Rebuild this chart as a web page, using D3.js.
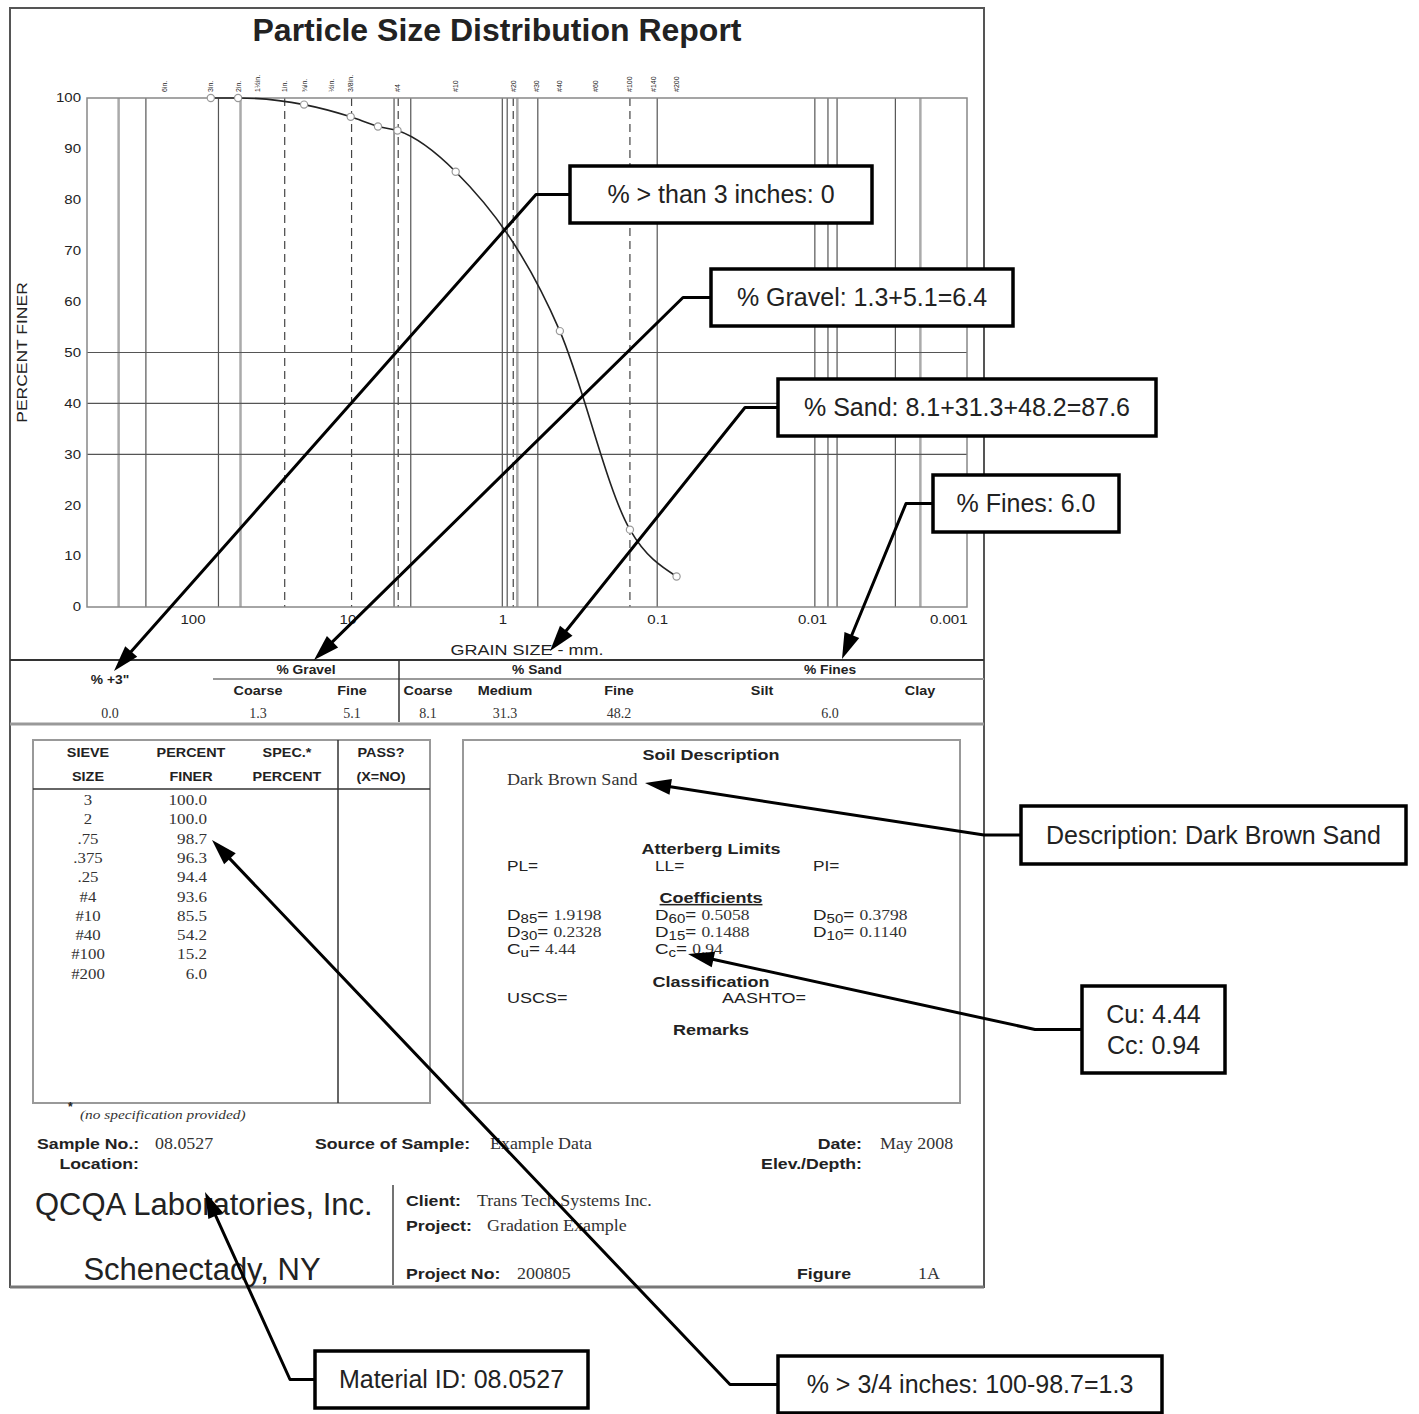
<!DOCTYPE html>
<html>
<head>
<meta charset="utf-8">
<script src="https://cdn.jsdelivr.net/npm/d3@7"></script>
<style>
  body { margin: 0; background: #fff; }
  svg { display: block; }
  text { font-family: "Liberation Sans", Arial, sans-serif; fill: #222; }
  .serif { font-family: "Liberation Serif", "Times New Roman", serif; fill: #333; }
</style>
</head>
<body>
<div id="chart"></div>
<script>
// sieve test results
const sieveNames = ["3", "2", ".75", ".375", ".25", "#4", "#10", "#40", "#100", "#200"];
const sieveSizes = [76.2, 50.8, 19.05, 9.525, 6.35, 4.75, 2.0, 0.425, 0.15, 0.075];
const percentFiner = [100.0, 100.0, 98.7, 96.3, 94.4, 93.6, 85.5, 54.2, 15.2, 6.0];

// sieve marks along the top of the chart
const topSieveNames = ["6in.", "3in.", "2in.", "1½in.", "1in.", "¾in.", "½in.", "3/8in.", "#4",
  "#10", "#20", "#30", "#40", "#60", "#100", "#140", "#200"];
const topSieveSizes = [152.4, 76.2, 50.8, 38.1, 25.4, 19.05, 12.7, 9.525, 4.75,
  2.0, 0.85, 0.6, 0.425, 0.25, 0.15, 0.106, 0.075];

// vertical reference lines (mm)
const gridSolid = [200, 68, 5.0, 3.9, 1.0, 0.93, 0.59, 0.1, 0.0096, 0.0079, 0.0069, 0.0029];
const gridGray = [300, 49, 0.8, 0.002];
const gridDashed = [25.4, 9.4, 4.7, 0.85, 0.15];
const yGrid = [30, 40, 50];
const xTicks = [100, 10, 1, 0.1, 0.01, 0.001];
const yTicks = [0, 10, 20, 30, 40, 50, 60, 70, 80, 90, 100];

// fraction summary
const fractionGroups = ["% +3\"", "% Gravel", "% Sand", "% Fines"];
const fractionNames = ["", "Coarse", "Fine", "Coarse", "Medium", "Fine", "Silt", "Clay"];
const fractionValues = ["0.0", "1.3", "5.1", "8.1", "31.3", "48.2", "6.0", ""];

// coefficients
const coefNames = [["D", "85"], ["D", "60"], ["D", "50"], ["D", "30"], ["D", "15"], ["D", "10"], ["C", "u"], ["C", "c"]];
const coefValues = ["1.9198", "0.5058", "0.3798", "0.2328", "0.1488", "0.1140", "4.44", "0.94"];

// callouts
const calloutTexts = [
  ["% > than 3 inches: 0"],
  ["% Gravel: 1.3+5.1=6.4"],
  ["% Sand: 8.1+31.3+48.2=87.6"],
  ["% Fines: 6.0"],
  ["Description: Dark Brown Sand"],
  ["Cu: 4.44", "Cc: 0.94"],
  ["Material ID: 08.0527"],
  ["% > 3/4 inches: 100-98.7=1.3"],
];

const W = 1419, H = 1414;
const plot = { left: 87, right: 967, top: 98, bottom: 607 };

const svg = d3.select("#chart").append("svg")
  .attr("width", W).attr("height", H)
  .attr("viewBox", [0, 0, W, H]);

// text helper: the report's lettering is wide, so glyphs get a horizontal stretch
function put(parent, px, py, str, o = {}) {
  const t = parent.append("text")
    .attr("transform", `translate(${px},${py})${o.rotate ? ` rotate(${o.rotate})` : ""} scale(${o.sx || 1},1)`)
    .attr("text-anchor", o.anchor || "start")
    .attr("font-size", o.size || 12)
    .text(str);
  if (o.bold) t.attr("font-weight", "bold");
  if (o.serif) t.attr("class", "serif");
  if (o.italic) t.attr("font-style", "italic");
  if (o.fill) t.style("fill", o.fill);
  return t;
}

const x = d3.scaleLog().domain([480, 0.001]).range([plot.left, plot.right]);
const y = d3.scaleLinear().domain([0, 100]).range([plot.bottom, plot.top]);

// page frame
svg.append("rect").attr("x", 10).attr("y", 8).attr("width", 974).attr("height", 1279)
  .attr("fill", "none").attr("stroke", "#555").attr("stroke-width", 2);
svg.append("line").attr("x1", 10).attr("x2", 984).attr("y1", 1287).attr("y2", 1287)
  .attr("stroke", "#777").attr("stroke-width", 3);

put(svg, 497, 41, "Particle Size Distribution Report", { anchor: "middle", size: 32, bold: true });

// chart
const g = svg.append("g");

g.selectAll(".vg").data(gridGray).join("line")
  .attr("x1", d => x(d)).attr("x2", d => x(d)).attr("y1", plot.top).attr("y2", plot.bottom)
  .attr("stroke", "#aaa").attr("stroke-width", 2.5);
g.selectAll(".vs").data(gridSolid).join("line")
  .attr("x1", d => x(d)).attr("x2", d => x(d)).attr("y1", plot.top).attr("y2", plot.bottom)
  .attr("stroke", "#555").attr("stroke-width", 1.2);
g.selectAll(".vd").data(gridDashed).join("line")
  .attr("x1", d => x(d)).attr("x2", d => x(d)).attr("y1", plot.top).attr("y2", plot.bottom)
  .attr("stroke", "#444").attr("stroke-width", 1.2).attr("stroke-dasharray", "8,5");
g.selectAll(".hg").data(yGrid).join("line")
  .attr("x1", plot.left).attr("x2", plot.right).attr("y1", d => y(d)).attr("y2", d => y(d))
  .attr("stroke", "#555").attr("stroke-width", 1.2);

g.append("rect").attr("x", plot.left).attr("y", plot.top)
  .attr("width", plot.right - plot.left).attr("height", plot.bottom - plot.top)
  .attr("fill", "none").attr("stroke", "#888").attr("stroke-width", 1.5);

// axes
const yAxis = g.append("g").attr("transform", `translate(${plot.left},0)`)
  .call(d3.axisLeft(y).tickValues(yTicks).tickSize(0).tickPadding(6));
yAxis.select(".domain").remove();
yAxis.selectAll(".tick text")
  .attr("font-size", 12).attr("fill", "#333")
  .style("font-family", "'Liberation Sans', Arial, sans-serif")
  .attr("transform", "translate(-6,0) scale(1.25,1) translate(6,0)");

const xAxis = g.append("g").attr("transform", `translate(0,${plot.bottom})`)
  .call(d3.axisBottom(x).tickValues(xTicks).tickSize(0).tickPadding(8).tickFormat(d => String(d)));
xAxis.select(".domain").remove();
xAxis.selectAll(".tick text")
  .attr("font-size", 12).attr("fill", "#333")
  .style("font-family", "'Liberation Sans', Arial, sans-serif")
  .attr("text-anchor", d => d === 0.001 ? "end" : "middle")
  .attr("transform", "scale(1.25,1)");

put(g, 527, 655, "GRAIN SIZE - mm.", { anchor: "middle", size: 15, sx: 1.2 });
put(g, 27, y(50), "PERCENT FINER", { anchor: "middle", size: 14, sx: 1.25, rotate: -90 });

// sieve labels on top
g.selectAll(".sl").data(topSieveSizes).join("text")
  .attr("transform", d => `translate(${x(d) + 2.5},${plot.top - 6}) rotate(-90)`)
  .attr("font-size", 7).attr("fill", "#444")
  .text((d, i) => topSieveNames[i]);

// curve
const pts = sieveSizes.map((s, i) => [x(s), y(percentFiner[i])]);
g.append("path").attr("d", d3.line().curve(d3.curveMonotoneX)(pts))
  .attr("fill", "none").attr("stroke", "#222").attr("stroke-width", 1.6);
g.selectAll(".pt").data(pts).join("circle")
  .attr("cx", d => d[0]).attr("cy", d => d[1]).attr("r", 3.6)
  .attr("fill", "#fff").attr("stroke", "#999").attr("stroke-width", 1.2);

// fraction table
const ft = svg.append("g");
ft.append("line").attr("x1", 10).attr("x2", 984).attr("y1", 660).attr("y2", 660)
  .attr("stroke", "#333").attr("stroke-width", 2);
ft.append("line").attr("x1", 213).attr("x2", 984).attr("y1", 679).attr("y2", 679)
  .attr("stroke", "#999").attr("stroke-width", 2);
ft.append("line").attr("x1", 399).attr("x2", 399).attr("y1", 660).attr("y2", 722)
  .attr("stroke", "#333").attr("stroke-width", 1.5);
ft.append("line").attr("x1", 10).attr("x2", 984).attr("y1", 724).attr("y2", 724)
  .attr("stroke", "#999").attr("stroke-width", 3);

const groupX = [110, 306, 537, 830];
const groupY = [684, 674, 674, 674];
fractionGroups.forEach((d, i) =>
  put(ft, groupX[i], groupY[i], d, { anchor: "middle", size: 12, bold: true, sx: 1.15 }));
const colX = [110, 258, 352, 428, 505, 619, 762, 920];
const valX = [110, 258, 352, 428, 505, 619, 830, 920];
fractionNames.forEach((d, i) =>
  put(ft, colX[i], 695, d, { anchor: "middle", size: 12, bold: true, sx: 1.2 }));
fractionValues.forEach((d, i) =>
  put(ft, valX[i], 718, d, { anchor: "middle", size: 14, serif: true }));

// sieve table
const st = svg.append("g");
st.append("rect").attr("x", 33).attr("y", 740).attr("width", 397).attr("height", 363)
  .attr("fill", "none").attr("stroke", "#999").attr("stroke-width", 2);
st.append("line").attr("x1", 33).attr("x2", 430).attr("y1", 789).attr("y2", 789)
  .attr("stroke", "#333").attr("stroke-width", 1.5);
st.append("line").attr("x1", 338).attr("x2", 338).attr("y1", 740).attr("y2", 1103)
  .attr("stroke", "#333").attr("stroke-width", 1.5);
const headers = [["SIEVE", "SIZE", 88], ["PERCENT", "FINER", 191], ["SPEC.*", "PERCENT", 287], ["PASS?", "(X=NO)", 381]];
headers.forEach(([a, b, hx]) => {
  put(st, hx, 757, a, { anchor: "middle", size: 12, bold: true, sx: 1.2 });
  put(st, hx, 781, b, { anchor: "middle", size: 12, bold: true, sx: 1.2 });
});
sieveNames.forEach((d, i) =>
  put(st, 88, 805 + i * 19.3, d, { anchor: "middle", size: 14, serif: true, sx: 1.2 }));
percentFiner.forEach((d, i) =>
  put(st, 207, 805 + i * 19.3, d.toFixed(1), { anchor: "end", size: 14, serif: true, sx: 1.22 }));
put(st, 68, 1111, "*", { size: 12, bold: true });
put(st, 80, 1119, "(no specification provided)", { size: 12, serif: true, italic: true, sx: 1.28 });

// soil description box
const sd = svg.append("g");
sd.append("rect").attr("x", 463).attr("y", 740).attr("width", 497).attr("height", 363)
  .attr("fill", "none").attr("stroke", "#999").attr("stroke-width", 2);
const heading = (t, ty, underline) => {
  const el = put(sd, 711, ty, t, { anchor: "middle", size: 15, bold: true, sx: 1.2 });
  if (underline) el.attr("text-decoration", "underline");
};
heading("Soil Description", 760);
heading("Atterberg Limits", 854);
heading("Coefficients", 903, true);
heading("Classification", 987);
heading("Remarks", 1035);
put(sd, 507, 785, "Dark Brown Sand", { size: 16, serif: true, sx: 1.13 });
[["PL=", 507], ["LL=", 655], ["PI=", 813]].forEach(([t, tx]) =>
  put(sd, tx, 871, t, { size: 15, sx: 1.15 }));
const coefX = [507, 655, 813];
coefNames.forEach(([a, sub], i) => {
  const t = put(sd, coefX[i % 3], 920 + Math.floor(i / 3) * 17, "", { size: 15, sx: 1.25 });
  t.append("tspan").text(a);
  t.append("tspan").attr("dy", 3).attr("font-size", 12).text(sub);
  t.append("tspan").attr("dy", -3).text("= ");
  t.append("tspan").attr("class", "serif").attr("font-size", 14).text(coefValues[i]);
});
put(sd, 507, 1003, "USCS=", { size: 15, sx: 1.2 });
put(sd, 722, 1003, "AASHTO=", { size: 15, sx: 1.2 });

// footer
const ftr = svg.append("g");
const label = (t, lx, ly, anchor) => put(ftr, lx, ly, t, { anchor, size: 15, bold: true, sx: 1.18 });
const value = (t, vx, vy) => put(ftr, vx, vy, t, { size: 16, serif: true, sx: 1.12 });
label("Sample No.:", 37, 1149); value("08.0527", 155, 1149);
label("Location:", 139, 1169, "end");
label("Source of Sample:", 315, 1149); value("Example Data", 490, 1149);
label("Date:", 862, 1149, "end"); value("May 2008", 880, 1149);
label("Elev./Depth:", 862, 1169, "end");
put(ftr, 35, 1215, "QCQA Laboratories, Inc.", { size: 31 });
put(ftr, 202, 1280, "Schenectady, NY", { anchor: "middle", size: 31 });
ftr.append("line").attr("x1", 393).attr("x2", 393).attr("y1", 1185).attr("y2", 1285)
  .attr("stroke", "#444").attr("stroke-width", 1.5);
label("Client:", 406, 1206); value("Trans Tech Systems Inc.", 477, 1206);
label("Project:", 406, 1231); value("Gradation Example", 487, 1231);
label("Project No:", 406, 1279); value("200805", 517, 1279);
label("Figure", 797, 1279); value("1A", 918, 1279);

// callouts: box rect, elbow point, arrow tip
const calloutLayout = [
  { box: [570, 166, 302, 57], elbow: [536, 194], tip: [114, 671] },
  { box: [711, 269, 302, 57], elbow: [683, 297], tip: [314, 660] },
  { box: [778, 379, 378, 57], elbow: [745, 407], tip: [550, 651] },
  { box: [933, 475, 186, 57], elbow: [906, 503], tip: [842, 659] },
  { box: [1021, 806, 385, 58], elbow: [984, 834], tip: [645, 783] },
  { box: [1082, 986, 143, 87], elbow: [1035, 1029], tip: [688, 954] },
  { box: [315, 1351, 273, 57], elbow: [290, 1381], tip: [205, 1192] },
  { box: [778, 1356, 384, 57], elbow: [730, 1384], tip: [212, 840] },
];
const co = svg.append("g");
calloutTexts.forEach((lines, i) => {
  const { box, elbow, tip } = calloutLayout[i];
  const [bx, by, bw, bh] = box;
  const sx = bx, sy = by + bh / 2;
  const dx = tip[0] - elbow[0], dy = tip[1] - elbow[1];
  const len = Math.hypot(dx, dy), ux = dx / len, uy = dy / len;
  const ah = 26, aw = 8;
  const base = [tip[0] - ux * ah, tip[1] - uy * ah];
  co.append("polyline")
    .attr("points", [[sx, sy], [elbow[0], sy], [base[0] + ux * 2, base[1] + uy * 2]].map(p => p.join(",")).join(" "))
    .attr("fill", "none").attr("stroke", "#000").attr("stroke-width", 3).attr("stroke-linejoin", "round");
  co.append("polygon")
    .attr("points", [tip, [base[0] - uy * aw, base[1] + ux * aw], [base[0] + uy * aw, base[1] - ux * aw]]
      .map(p => p.join(",")).join(" "))
    .attr("fill", "#000");
  co.append("rect").attr("x", bx).attr("y", by).attr("width", bw).attr("height", bh)
    .attr("fill", "#fff").attr("stroke", "#000").attr("stroke-width", 3.5);
  const lh = 31;
  lines.forEach((t, j) => {
    co.append("text").attr("x", bx + bw / 2)
      .attr("y", by + bh / 2 + (j - (lines.length - 1) / 2) * lh)
      .attr("dy", "0.35em").attr("text-anchor", "middle")
      .attr("font-size", 25).attr("fill", "#222").text(t);
  });
});
</script>
</body>
</html>
